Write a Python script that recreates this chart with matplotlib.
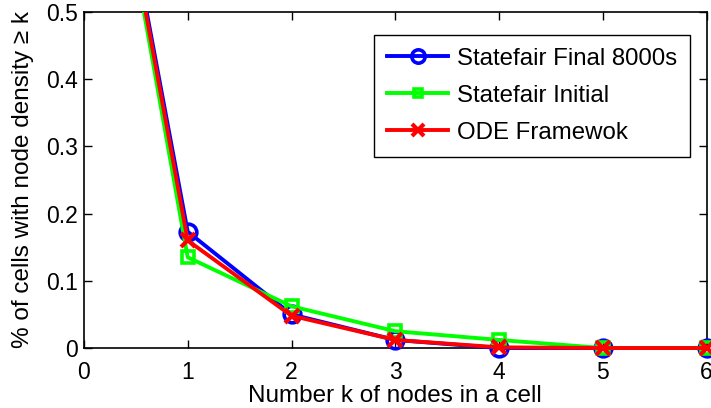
import matplotlib
matplotlib.use("Agg")
import matplotlib.pyplot as plt
from matplotlib.patches import Rectangle

plt.rcParams['font.family'] = ['Liberation Sans', 'DejaVu Sans']

k = [0, 1, 2, 3, 4, 5, 6]
final_8000 = [1.0, 0.173, 0.050, 0.012, 0.0, 0.0, 0.0]
initial = [1.0, 0.135, 0.062, 0.025, 0.012, 0.0, 0.0]
ode = [1.0, 0.160, 0.048, 0.012, 0.001, 0.0, 0.0]

fig = plt.figure(figsize=(7.11, 4.08), dpi=100)
ax = fig.add_axes([0.118, 0.147, 0.876, 0.824])

ax.plot(k, final_8000, color='#0000ff', lw=2.8, marker='o', ms=12, mfc='none', mew=2.6,
        label='Statefair Final 8000s', zorder=3)
ax.plot(k, initial, color='#00ff00', lw=2.8, marker='s', ms=8, mfc='none', mew=2.6,
        label='Statefair Initial', zorder=4)
ax.plot(k, ode, color='#ff0000', lw=2.8, marker='x', ms=10, mew=3.0,
        label='ODE Framewok', zorder=5)

clip = Rectangle((-0.1, -0.1), 1.2, 1.1, transform=ax.transAxes, facecolor='none', edgecolor='none')
ax.add_patch(clip)
for ln in ax.lines:
    ln.set_clip_path(clip)

ax.set_xlim(0, 6)
ax.set_ylim(0, 0.5)
ax.set_xticks(range(7))
ax.set_yticks([0, 0.1, 0.2, 0.3, 0.4, 0.5])
ax.set_yticklabels(['0', '0.1', '0.2', '0.3', '0.4', '0.5'])
ax.tick_params(direction='in', top=True, right=True, labelsize=16.5, length=6, width=1)
ax.tick_params(axis='x', pad=9)
ax.tick_params(axis='y', pad=4)
for s in ax.spines.values():
    s.set_linewidth(1.2)

ax.set_xlabel('Number k of nodes in a cell', fontsize=17.5, labelpad=1)
ax.set_ylabel('% of cells with node density \u2265 k', fontsize=17.5, labelpad=9)

leg = ax.legend(loc='upper right', bbox_to_anchor=(0.973, 0.932), fontsize=17.3, fancybox=False,
                edgecolor='black', framealpha=1, handlelength=2.55, handletextpad=0.35,
                borderpad=0.55, labelspacing=0.62, markerscale=0.8, borderaxespad=0)
leg.get_frame().set_linewidth(1.0)

fig.savefig('out.png', dpi=100)
